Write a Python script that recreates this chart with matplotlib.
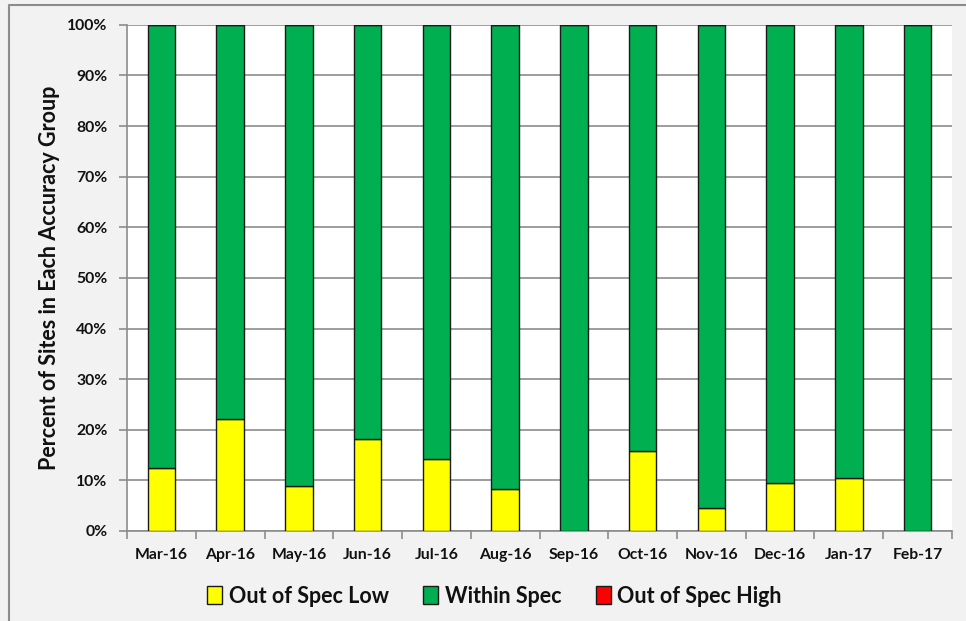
import matplotlib.pyplot as plt
from matplotlib.lines import Line2D
from matplotlib.ticker import FixedLocator, PercentFormatter

months = ['Mar-16', 'Apr-16', 'May-16', 'Jun-16', 'Jul-16', 'Aug-16',
          'Sep-16', 'Oct-16', 'Nov-16', 'Dec-16', 'Jan-17', 'Feb-17']
low = [12.5, 22.2, 8.9, 18.2, 14.3, 8.2, 0.0, 15.8, 4.5, 9.5, 10.5, 0.0]
high = [0.0] * 12
within = [100.0 - l - h for l, h in zip(low, high)]

plt.rcParams['font.family'] = ['Lato', 'DejaVu Sans']

fig = plt.figure(figsize=(9.66, 6.21), dpi=100, facecolor='#f2f2f2')
ax = fig.add_axes([0.1315, 0.145, 0.854, 0.815])
ax.set_facecolor('white')

x = range(len(months))
kw = dict(width=0.4, edgecolor='#1a1a1a', linewidth=1.0, zorder=3)
ax.bar(x, low, color='#ffff00', label='Out of Spec Low', **kw)
ax.bar(x, within, bottom=low, color='#00b050', label='Within Spec', **kw)
ax.bar(x, high, bottom=[l + w for l, w in zip(low, within)], color='#ff0000',
       label='Out of Spec High', **kw)

ax.set_xlim(-0.5, len(months) - 0.5)
ax.set_ylim(0, 100)
ax.set_yticks(range(0, 101, 10))
ax.yaxis.set_major_formatter(PercentFormatter(decimals=0))
ax.set_xticks(list(x))
ax.set_xticklabels(months)
ax.xaxis.set_minor_locator(FixedLocator([i - 0.5 for i in range(len(months) + 1)]))
ax.tick_params(axis='x', which='major', length=0, pad=12)
ax.tick_params(axis='x', which='minor', length=6, color='#8c8c8c', width=1.2)
ax.tick_params(axis='y', length=6, color='#8c8c8c', width=1.2, pad=8)
for lab in ax.get_xticklabels() + ax.get_yticklabels():
    lab.set_fontweight('bold')
    lab.set_fontsize(11.3)
    lab.set_color('#111111')

ax.grid(axis='y', color='#8c8c8c', linewidth=1.2, zorder=0)
ax.set_axisbelow(True)
for side in ['top', 'right']:
    ax.spines[side].set_visible(False)
for side in ['left', 'bottom']:
    ax.spines[side].set_color('#8c8c8c')
    ax.spines[side].set_linewidth(1.2)

ax.set_ylabel('Percent of Sites in Each Accuracy Group', fontsize=15.5,
              fontweight='bold', labelpad=5, color='#111111')

leg = fig.legend(loc='center', bbox_to_anchor=(0.512, 0.04), ncol=3, frameon=False,
                 fontsize=15.5, handlelength=0.7, handleheight=0.9, handletextpad=0.3,
                 columnspacing=1.6)
for t in leg.get_texts():
    t.set_fontweight('bold')
    t.set_color('#111111')

# frame line along the top and left edges
fig.add_artist(Line2D([0.0095, 0.0095, 1.0], [0.0, 0.992, 0.992], transform=fig.transFigure,
                      color='#8c8c8c', linewidth=1.5))

fig.savefig('out.png', dpi=100, facecolor=fig.get_facecolor())
